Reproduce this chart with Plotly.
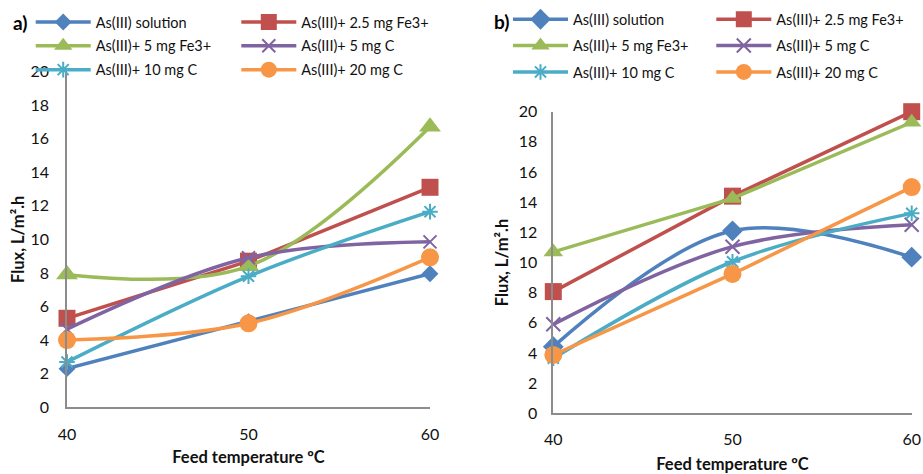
import plotly.graph_objects as go

temps = [40, 50, 60]
names = ["As(III) solution", "As(III)+ 2.5 mg Fe3+", "As(III)+ 5 mg Fe3+",
         "As(III)+ 5 mg C", "As(III)+ 10 mg C", "As(III)+ 20 mg C"]

flux_a_solution = [2.3, 5.1, 7.95]
flux_a_fe25 = [5.3, 8.7, 13.1]
flux_a_fe5 = [7.9, 8.4, 16.7]
flux_a_c5 = [4.65, 8.9, 9.85]
flux_a_c10 = [2.7, 7.8, 11.65]
flux_a_c20 = [4.0, 5.0, 8.93]

flux_b_solution = [4.42, 12.1, 10.35]
flux_b_fe25 = [8.07, 14.4, 20.0]
flux_b_fe5 = [10.7, 14.25, 19.3]
flux_b_c5 = [5.9, 11.05, 12.5]
flux_b_c10 = [3.65, 10.05, 13.26]
flux_b_c20 = [3.87, 9.24, 15.0]

y_ticks = [0, 2, 4, 6, 8, 10, 12, 14, 16, 18, 20]
x_ticks = [40, 50, 60]

colors = ["#4F81BD", "#C0504D", "#9BBB59", "#8064A2", "#4BACC6", "#F79646"]
symbols = ["diamond", "square", "triangle-up", "x-thin-open", "asterisk-open", "circle"]
sizes_a = [13, 17, 19, 13, 13, 18]
sizes_b = [16, 17, 17, 14, 13, 18]
shapes_a = ["linear", "linear", "spline", "spline", "spline", "spline"]
shapes_b = ["spline", "linear", "linear", "spline", "spline", "linear"]

data_a = [flux_a_solution, flux_a_fe25, flux_a_fe5, flux_a_c5, flux_a_c10, flux_a_c20]
data_b = [flux_b_solution, flux_b_fe25, flux_b_fe5, flux_b_c5, flux_b_c10, flux_b_c20]

FONT = "Lato, Carlito, Calibri, sans-serif"
TXT = "#111111"

W, H = 923, 474


def px(x):
    return x / W


def py(y):
    return 1 - y / H


fig = go.Figure()

leg_a = ["legend", "legend2", "legend", "legend2", "legend", "legend2"]
leg_b = ["legend3", "legend4", "legend3", "legend4", "legend3", "legend4"]

for panel, data, shapes, sizes, legs, xa, ya in [
        ("a", data_a, shapes_a, sizes_a, leg_a, "x", "y"),
        ("b", data_b, shapes_b, sizes_b, leg_b, "x2", "y2")]:
    for i in range(6):
        thin = symbols[i] in ("x-thin-open", "asterisk-open")
        fig.add_trace(go.Scatter(
            x=temps, y=data[i], name=names[i], mode="lines+markers",
            xaxis=xa, yaxis=ya, legend=legs[i], cliponaxis=False,
            legendgroup=panel + str(i),
            line=dict(color=colors[i], width=3.5, shape=shapes[i], smoothing=1.0),
            marker=dict(symbol=symbols[i], size=sizes[i], color=colors[i],
                        line=dict(color=colors[i], width=2 if thin else 0)),
        ))

axis_common = dict(showline=True, linecolor="#8c8c8c", linewidth=1.5, showgrid=False,
                   zeroline=False, ticks="", automargin=False,
                   tickfont=dict(family=FONT, size=16, color=TXT))
title_font = dict(family=FONT, size=16.5, color=TXT)

fig.update_layout(
    width=W, height=H, margin=dict(l=0, r=0, t=0, b=0),
    paper_bgcolor="white", plot_bgcolor="white",
    font=dict(family=FONT, size=15, color=TXT),
    xaxis=dict(domain=[px(67), px(430)], range=[40, 60], tickvals=x_ticks,
               ticklabelstandoff=12, anchor="y",
               title=dict(text="<b>Feed temperature ºC</b>", font=title_font, standoff=9),
               **axis_common),
    yaxis=dict(domain=[py(407.3), py(71.4)], range=[0, 20], tickvals=y_ticks,
               ticklabelstandoff=13, anchor="x",
               title=dict(text="<b>Flux, L/m².h</b>", font=title_font, standoff=2),
               **axis_common),
    xaxis2=dict(domain=[px(553.3), px(911.7)], range=[40, 60], tickvals=x_ticks,
                ticklabelstandoff=11, anchor="y2",
                title=dict(text="<b>Feed temperature ºC</b>", font=title_font, standoff=13),
                **axis_common),
    yaxis2=dict(domain=[py(413.3), py(111.7)], range=[0, 20], tickvals=y_ticks,
                ticklabelstandoff=11, anchor="x2",
                title=dict(text="<b>Flux, L/m².h</b>", font=title_font, standoff=6),
                **axis_common),
    showlegend=True,
)

leg_common = dict(bgcolor="rgba(0,0,0,0)", borderwidth=0, orientation="v",
                  font=dict(family=FONT, size=14.5, color=TXT),
                  xanchor="left", yanchor="top", itemwidth=55)
fig.update_layout(
    legend=dict(x=px(30.7), y=py(6), tracegroupgap=2, **leg_common),
    legend2=dict(x=px(236.3), y=py(6), tracegroupgap=2, **leg_common),
    legend3=dict(x=px(508), y=py(3.3), tracegroupgap=4.5, **leg_common),
    legend4=dict(x=px(711.3), y=py(3.3), tracegroupgap=4.5, **leg_common),
)

fig.add_annotation(text="<b>a)</b>", x=px(11), y=py(23), xref="paper", yref="paper",
                   xanchor="left", yanchor="middle", showarrow=False,
                   font=dict(family=FONT, size=19, color="#000"))
fig.add_annotation(text="<b>b)</b>", x=px(492), y=py(22), xref="paper", yref="paper",
                   xanchor="left", yanchor="middle", showarrow=False,
                   font=dict(family=FONT, size=19, color="#000"))

# remove the default 8px page margin so the 923x474 figure fills the window exactly
fig.write_html("out.html", config={"displayModeBar": False},
               post_script="document.body.style.margin='0';")
